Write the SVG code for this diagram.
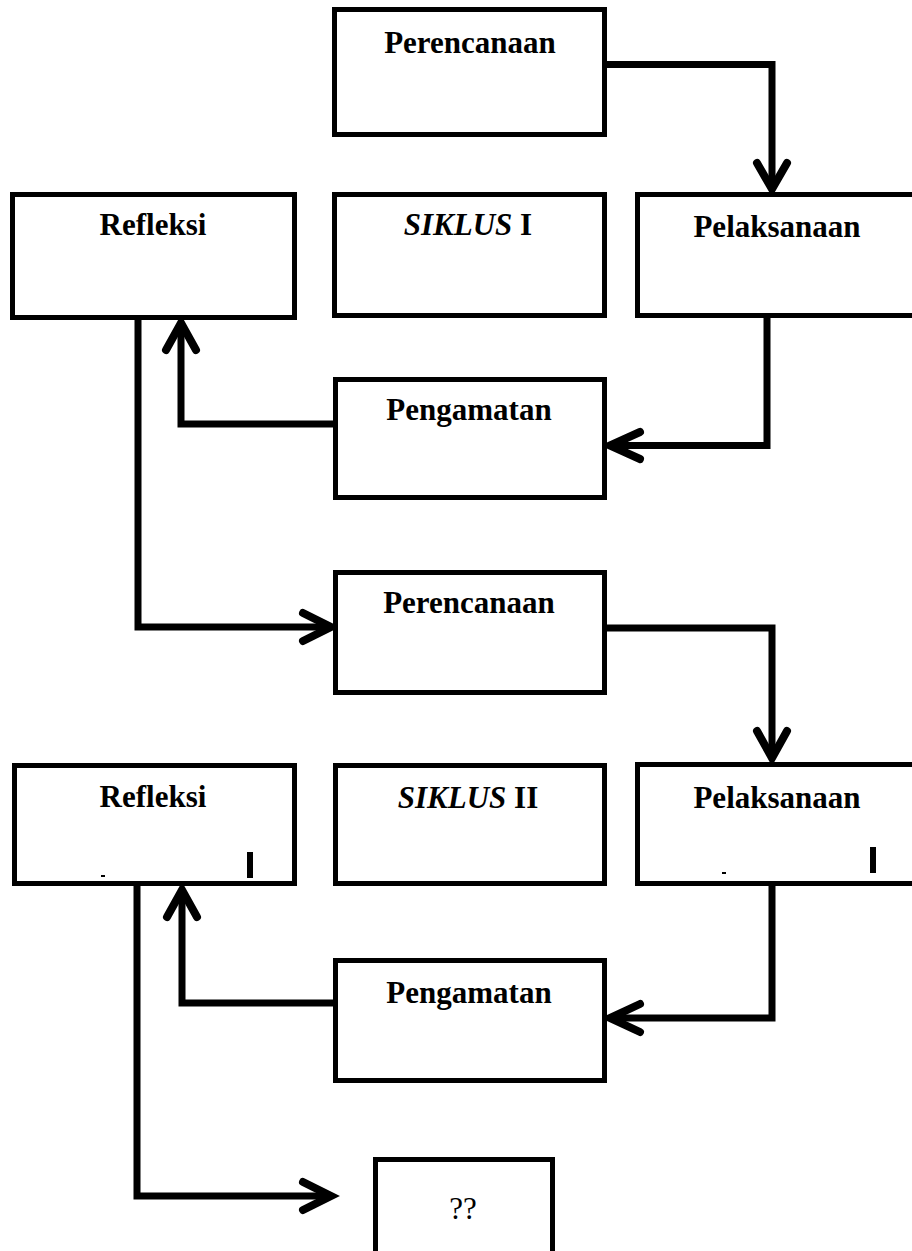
<svg xmlns="http://www.w3.org/2000/svg" width="912" height="1251" viewBox="0 0 912 1251">
<style>
.box{fill:#fff;stroke:#000;stroke-width:5}
.lbl{font-family:"Liberation Serif","Times New Roman",serif;font-weight:bold;font-size:31px;text-anchor:middle;fill:#000}
.q{font-family:"Liberation Serif","Times New Roman",serif;font-size:31px;text-anchor:middle;fill:#000}
.ln{fill:none;stroke:#000;stroke-width:7;stroke-linejoin:miter;stroke-linecap:butt}
.ah{fill:none;stroke:#000;stroke-width:8;stroke-linejoin:miter;stroke-linecap:round}
</style>
<rect width="912" height="1251" fill="#fff"/>
<g id="connectors">
<path class="ln" d="M607,64.5 H772 V186"/>
<path class="ah" d="M757,163 L772,189 L787,163"/>
<path class="ln" d="M767,318 V445.5 H612"/>
<path class="ah" d="M640,432 L610,445.5 L640,459"/>
<path class="ln" d="M335,424 H181 V325"/>
<path class="ah" d="M166,350 L181,323 L196,350"/>
<path class="ln" d="M138,320 V627 H328"/>
<path class="ah" d="M303,613 L331,627 L303,641"/>
<path class="ln" d="M607,628 H772 V755"/>
<path class="ah" d="M757,731 L772,758 L787,731"/>
<path class="ln" d="M772,886 V1018 H612"/>
<path class="ah" d="M640,1004 L610,1018 L640,1032"/>
<path class="ln" d="M335,1003 H182 V892"/>
<path class="ah" d="M167,917 L182,890 L197,917"/>
<path class="ln" d="M137,886 V1196 H328"/>
<path class="ah" d="M303,1182 L331,1196 L303,1210"/>
</g>
<g id="perencanaan1">
<rect class="box" x="334.5" y="9.5" width="270" height="125"/>
<text class="lbl" x="470" y="53">Perencanaan</text>
</g>
<g id="refleksi1">
<rect class="box" x="12.5" y="194.5" width="282" height="123"/>
<text class="lbl" x="153" y="235">Refleksi</text>
</g>
<g id="siklus1">
<rect class="box" x="334.5" y="194.5" width="270" height="121"/>
<text class="lbl" x="468" y="235"><tspan font-style="italic">SIKLUS</tspan> I</text>
</g>
<g id="pelaksanaan1">
<rect class="box" x="637.5" y="194.5" width="300" height="121"/>
<text class="lbl" x="777" y="237">Pelaksanaan</text>
</g>
<g id="pengamatan1">
<rect class="box" x="335.5" y="379.5" width="269" height="118"/>
<text class="lbl" x="469" y="420">Pengamatan</text>
</g>
<g id="perencanaan2">
<rect class="box" x="335.5" y="572.5" width="269" height="120"/>
<text class="lbl" x="469" y="613">Perencanaan</text>
</g>
<g id="refleksi2">
<rect class="box" x="14.5" y="765.5" width="280" height="118"/>
<text class="lbl" x="153" y="807">Refleksi</text>
<rect x="101" y="875" width="4" height="2" fill="#000"/>
<rect x="247" y="852" width="6" height="26" fill="#000"/>
</g>
<g id="siklus2">
<rect class="box" x="335.5" y="765.5" width="269" height="118"/>
<text class="lbl" x="468" y="808"><tspan font-style="italic">SIKLUS</tspan> II</text>
</g>
<g id="pelaksanaan2">
<rect class="box" x="637.5" y="764.5" width="300" height="119"/>
<text class="lbl" x="777" y="808">Pelaksanaan</text>
<rect x="722" y="872" width="4" height="2" fill="#000"/>
<rect x="870" y="847" width="6" height="26" fill="#000"/>
</g>
<g id="pengamatan2">
<rect class="box" x="335.5" y="960.5" width="269" height="120"/>
<text class="lbl" x="469" y="1003">Pengamatan</text>
</g>
<g id="result">
<rect class="box" x="375.5" y="1159.5" width="177" height="120"/>
<text class="q" x="463" y="1219">??</text>
</g>
</svg>
